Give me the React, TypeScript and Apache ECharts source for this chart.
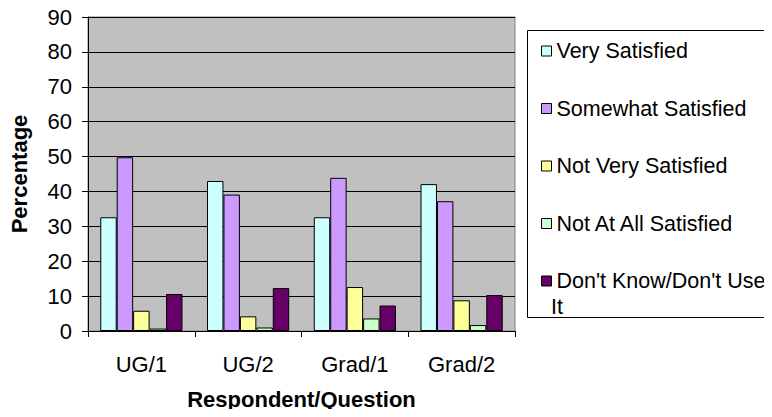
import React, { useEffect, useRef } from "react";
import * as echarts from "echarts";

const categories = ["UG/1", "UG/2", "Grad/1", "Grad/2"];
const seriesNames = [
  "Very Satisfied",
  "Somewhat Satisfied",
  "Not Very Satisfied",
  "Not At All Satisfied",
  "Don't Know/Don't Use It",
];
const verySatisfied = [32.6, 43.0, 32.6, 42.1];
const somewhatSatisfied = [49.8, 39.1, 43.9, 37.2];
const notVerySatisfied = [5.8, 4.2, 12.6, 8.8];
const notAtAllSatisfied = [0.7, 1.0, 3.6, 1.7];
const dontKnow = [10.6, 12.3, 7.3, 10.3];
const colors = ["#CCFFFF", "#CC99FF", "#FFFF99", "#CCFFCC", "#660066"];
const FONT = "Liberation Sans, Arial, sans-serif";
const FS = 22;
const LFS = 21.5;

export default function App() {
  const ref = useRef<HTMLDivElement>(null);
  useEffect(() => {
    if (!ref.current) return;
    const chart = echarts.init(ref.current, undefined, { renderer: "svg" });
    const values = [verySatisfied, somewhatSatisfied, notVerySatisfied, notAtAllSatisfied, dontKnow];
    chart.setOption({
      animation: false,
      textStyle: { fontFamily: FONT },
      grid: {
        left: 87,
        right: 257,
        top: 17,
        bottom: 86,
        show: true,
        backgroundColor: "#C0C0C0",
        borderColor: "#808080",
        borderWidth: 1,
      },
      legend: {
        orient: "vertical",
        left: 536,
        top: 35,
        itemWidth: 10,
        itemHeight: 10,
        itemGap: 35.5,
        icon: "rect",
        formatter: (n: string) => (n === "Don't Know/Don't Use It" ? "Don't Know/Don't Use" : n),
        textStyle: { fontSize: LFS, lineHeight: 22, color: "#000", fontFamily: FONT },
        itemStyle: { borderColor: "#000", borderWidth: 1 },
        data: seriesNames,
      },
      graphic: [
        {
          type: "rect",
          shape: { x: 527.5, y: 30.5, width: 260, height: 287 },
          style: { fill: "none", stroke: "#000", lineWidth: 1 },
          z: -1,
        },
        {
          type: "text",
          left: 551,
          top: 296,
          style: { text: "It", font: `${LFS}px ${FONT}`, fill: "#000" },
        },
      ],
      xAxis: {
        type: "category",
        data: categories,
        name: "Respondent/Question",
        nameLocation: "middle",
        nameGap: 57,
        nameTextStyle: { fontSize: FS, fontWeight: "bold", color: "#000", fontFamily: FONT },
        axisLine: { lineStyle: { color: "#000" } },
        axisTick: { show: true, length: 6, lineStyle: { color: "#000" } },
        axisLabel: { fontSize: FS, color: "#000", margin: 22, fontFamily: FONT },
      },
      yAxis: {
        type: "value",
        min: 0,
        max: 90,
        interval: 10,
        name: "Percentage",
        nameLocation: "middle",
        nameGap: 58,
        nameTextStyle: { fontSize: FS, fontWeight: "bold", color: "#000", fontFamily: FONT },
        axisLine: { show: true, lineStyle: { color: "#000" } },
        axisTick: { show: true, length: 6, lineStyle: { color: "#000" } },
        axisLabel: { fontSize: FS, color: "#000", margin: 16, fontFamily: FONT },
        splitLine: { lineStyle: { color: "#000", width: 1 } },
      },
      series: seriesNames.map((name, i) => ({
        name,
        type: "bar",
        data: values[i],
        barGap: "0%",
        barCategoryGap: "23%",
        itemStyle: { color: colors[i], borderColor: "#000", borderWidth: 1 },
      })),
    });
    return () => chart.dispose();
  }, []);
  return <div ref={ref} style={{ width: 772, height: 417, margin: -8 }} />;
}
